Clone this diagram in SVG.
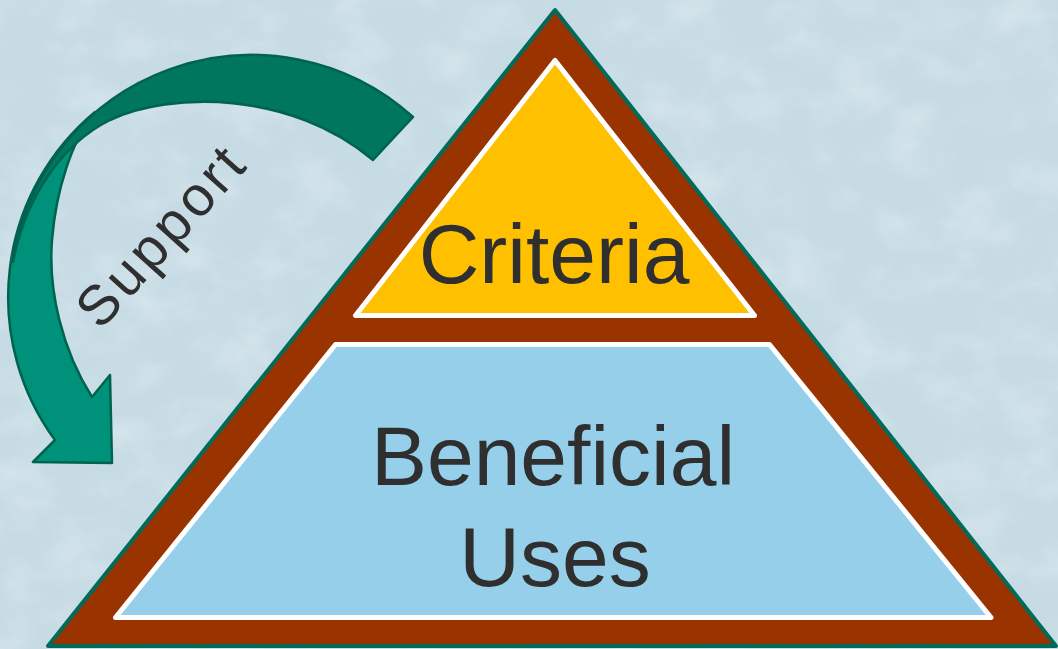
<svg xmlns="http://www.w3.org/2000/svg" width="1058" height="649" viewBox="0 0 1058 649">
  <defs>
    <filter id="tex" x="0" y="0" width="100%" height="100%">
      <feTurbulence type="fractalNoise" baseFrequency="0.018 0.024" numOctaves="4" seed="11" result="n"/>
      <feColorMatrix in="n" type="matrix" values="0 0 0 0 0.9  0 0 0 0 0.94  0 0 0 0 0.96  0 0 0 1.2 -0.5"/>
    </filter>
    <style>
      .lbl { font-family: "Liberation Sans", Arial, sans-serif; fill: #2f2f2f; }
      .big { font-size: 84px; text-anchor: middle; }
      .arrowStroke { stroke: #00634f; stroke-width: 2.5; stroke-linejoin: round; }
    </style>
  </defs>

  <rect id="background" x="0" y="0" width="1058" height="649" fill="#c6dbe4"/>
  <rect x="0" y="0" width="1058" height="649" filter="url(#tex)" opacity="0.55"/>

  <g id="pyramid">
    <polygon points="555,10 48,646 1056,646" fill="#993300" stroke="#006b5a" stroke-width="4" stroke-linejoin="round"/>
  </g>

  <g id="criteria">
    <polygon points="555,60.5 355.5,315.5 754.5,315.5" fill="#ffc000" stroke="#ffffff" stroke-width="5" stroke-linejoin="round"/>
    <text class="lbl big" x="554" y="283">Criteria</text>
  </g>

  <g id="beneficial-uses">
    <polygon points="335.5,344.5 769.5,344.5 991,617.5 115.5,617.5" fill="#96cfea" stroke="#ffffff" stroke-width="5" stroke-linejoin="round"/>
    <text class="lbl big" x="553" y="485">Beneficial</text>
    <text class="lbl big" x="555" y="586">Uses</text>
  </g>

  <g id="connectors">
    <g id="support-arrow">
      <path class="arrowStroke" fill="#00917a" d="M95,112 A241,241 0 0 0 55,440 L33,462 L112,463 L110,375 L92,397 C62,350 48,290 52,240 C56,190 72,140 95,112 Z"/>
      <path class="arrowStroke" fill="#00765f" d="M413,117 A241,241 0 0 0 13,262 C25,200 60,145 110,120 C170,92 290,90 373,160 Z"/>
    </g>
    <text class="lbl" font-size="56" letter-spacing="4" transform="translate(100.6,331.2) rotate(-48)">Support</text>
  </g>
</svg>
